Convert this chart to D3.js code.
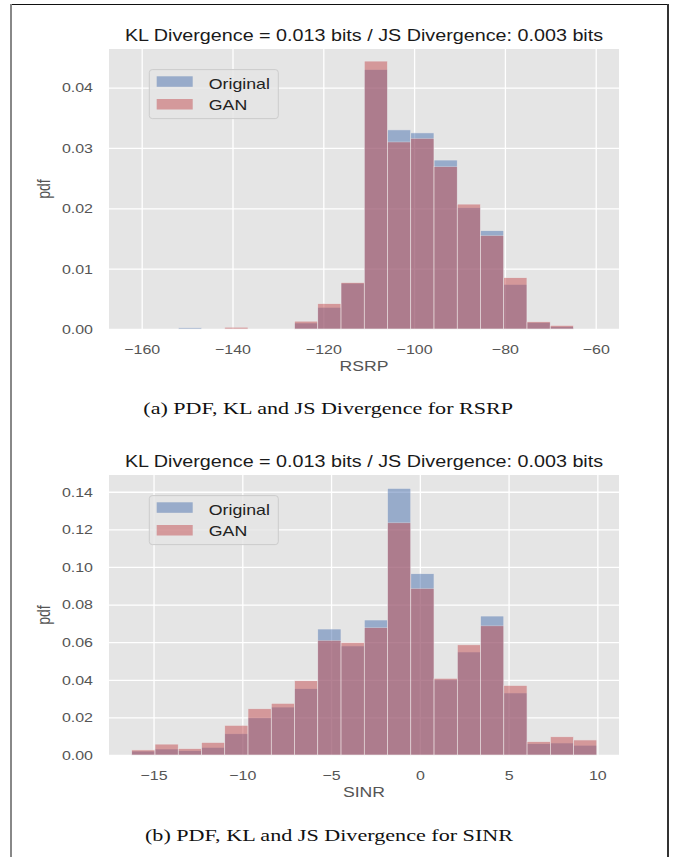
<!DOCTYPE html>
<html>
<head>
<meta charset="utf-8">
<script src="https://cdn.jsdelivr.net/npm/d3@7"></script>
<style>
  body { margin: 0; background: #fff; }
  svg { display: block; }
</style>
</head>
<body>
<svg id="fig" width="675" height="857"></svg>
<script>
// ---- data ----
const titleText = "KL Divergence = 0.013 bits / JS Divergence: 0.003 bits";
const seriesNames = ["Original", "GAN"];

// RSRP histogram (17 shared bins)
const rsrpEdges = [-151.94, -146.82, -141.70, -136.58, -131.46, -126.34, -121.22, -116.10, -110.98,
                   -105.86, -100.74, -95.62, -90.50, -85.38, -80.26, -75.14, -70.02, -64.90];
const rsrpOriginal = [0.0002, 0, 0, 0, 0, 0.0010, 0.0036, 0.0076, 0.0430, 0.0330, 0.0325,
                      0.0280, 0.0201, 0.0163, 0.0074, 0.0011, 0.0004];
const rsrpGan = [0, 0, 0.0003, 0, 0, 0.0013, 0.0042, 0.0077, 0.0444, 0.0310, 0.0316,
                 0.0269, 0.0207, 0.0155, 0.0085, 0.0012, 0.0006];
const rsrpXTicks = [-160, -140, -120, -100, -80, -60];
const rsrpYTicks = [0, 0.01, 0.02, 0.03, 0.04];

// SINR histogram (20 shared bins)
const sinrEdges = [-16.23, -14.92, -13.61, -12.30, -10.99, -9.68, -8.37, -7.06, -5.75, -4.44, -3.13,
                   -1.82, -0.51, 0.80, 2.11, 3.42, 4.73, 6.04, 7.35, 8.66, 9.97];
const sinrOriginal = [0.0021, 0.0032, 0.0023, 0.0041, 0.0113, 0.0198, 0.0255, 0.0353, 0.0670, 0.0580,
                      0.0718, 0.1418, 0.0964, 0.0402, 0.0548, 0.0739, 0.0330, 0.0060, 0.0064, 0.0052];
const sinrGan = [0.0027, 0.0058, 0.0034, 0.0067, 0.0158, 0.0246, 0.0275, 0.0395, 0.0610, 0.0599,
                 0.0677, 0.1235, 0.0886, 0.0408, 0.0586, 0.0687, 0.0370, 0.0071, 0.0097, 0.0080];
const sinrXTicks = [-15, -10, -5, 0, 5, 10];
const sinrYTicks = [0, 0.02, 0.04, 0.06, 0.08, 0.10, 0.12, 0.14];

const captions = ["(a) PDF, KL and JS Divergence for RSRP", "(b) PDF, KL and JS Divergence for SINR"];

// ---- style ----
const SX = 1.25;                       // horizontal text stretch of the figure
const SANS = "'Liberation Sans', Arial, Helvetica, sans-serif";
const SERIF = "'Liberation Serif', 'Times New Roman', Times, serif";
const colors = ["#4C72B0", "#C44E52"];
const bg = "#E5E5E5";

const svg = d3.select("#fig");

// page frame
svg.append("line").attr("x1", 10).attr("x2", 669).attr("y1", 4.5).attr("y2", 4.5)
  .attr("stroke", "#111").attr("stroke-width", 1.2);
svg.append("line").attr("x1", 11).attr("x2", 11).attr("y1", 4).attr("y2", 857)
  .attr("stroke", "#888").attr("stroke-width", 2);
svg.append("line").attr("x1", 668).attr("x2", 668).attr("y1", 4).attr("y2", 857)
  .attr("stroke", "#333").attr("stroke-width", 2);

function stretchedText(parent, x, y, str, opts) {
  return parent.append("text")
    .attr("transform", `translate(${x},${y}) scale(${SX},1)` + (opts.rotate ? ` rotate(${opts.rotate})` : ""))
    .attr("text-anchor", opts.anchor || "middle")
    .attr("font-family", opts.family || SANS)
    .attr("font-size", opts.size)
    .attr("fill", opts.fill || "#222")
    .text(str);
}

function panel(cfg) {
  const g = svg.append("g");
  const x = d3.scaleLinear().domain(cfg.xDomain).range([cfg.left, cfg.right]);
  const y = d3.scaleLinear().domain(cfg.yDomain).range([cfg.bottom, cfg.top]);
  const w = cfg.right - cfg.left, h = cfg.bottom - cfg.top;

  g.append("rect").attr("x", cfg.left).attr("y", cfg.top)
    .attr("width", w).attr("height", h).attr("fill", bg);

  // x axis with gridlines
  const xa = g.append("g").attr("transform", `translate(0,${cfg.bottom})`)
    .call(d3.axisBottom(x).tickValues(cfg.xTicks).tickSize(-h).tickFormat(d3.format("d")));
  xa.select(".domain").remove();
  xa.selectAll(".tick line").attr("stroke", "#fff").attr("stroke-width", 1.3);
  xa.selectAll(".tick text")
    .attr("y", 25).attr("dy", 0)
    .attr("transform", `scale(${SX},1)`)
    .attr("fill", "#555").attr("font-size", 12.8).attr("font-family", SANS);

  // y axis with gridlines
  const ya = g.append("g").attr("transform", `translate(${cfg.left},0)`)
    .call(d3.axisLeft(y).tickValues(cfg.yTicks).tickSize(-w).tickFormat(d3.format(".2f")));
  ya.select(".domain").remove();
  ya.selectAll(".tick line").attr("stroke", "#fff").attr("stroke-width", 1.3);
  ya.selectAll(".tick text")
    .attr("x", -16 / SX).attr("dy", "0.34em")
    .attr("transform", `scale(${SX},1)`)
    .attr("fill", "#555").attr("font-size", 12.8).attr("font-family", SANS);

  // histogram bars: Original first, GAN drawn over it
  [cfg.original, cfg.gan].forEach((vals, k) => {
    const bars = vals.map((v, i) => ({ v, x0: cfg.edges[i], x1: cfg.edges[i + 1] })).filter(d => d.v > 0);
    g.append("g").selectAll("rect").data(bars).join("rect")
      .attr("x", d => x(d.x0))
      .attr("width", d => x(d.x1) - x(d.x0))
      .attr("y", d => y(d.v))
      .attr("height", d => y(0) - y(d.v))
      .attr("fill", colors[k])
      .attr("stroke", "#EEEEEE").attr("stroke-width", 0.6)
      .attr("opacity", 0.5);
  });

  // title and axis labels
  const cx = (cfg.left + cfg.right) / 2;
  stretchedText(g, cx, cfg.top - 8.3, titleText, { size: 15.8, fill: "#1a1a1a" });
  stretchedText(g, cx, cfg.bottom + 42, cfg.xLabel, { size: 14.1, fill: "#555" });
  stretchedText(g, 49.5, (cfg.top + cfg.bottom) / 2, "pdf", { size: 14, fill: "#555", rotate: -90 });

  // legend
  const lx = 149.3, ly = cfg.top + 20.6;
  const lg = g.append("g");
  lg.append("rect").attr("x", lx).attr("y", ly).attr("width", 129).attr("height", 49)
    .attr("rx", 3).attr("fill", bg).attr("fill-opacity", 0.8)
    .attr("stroke", "#CCCCCC").attr("stroke-width", 1);
  seriesNames.forEach((name, k) => {
    lg.append("rect").attr("x", lx + 7.4).attr("y", ly + 6.7 + k * 22.7)
      .attr("width", 36).attr("height", 10.5)
      .attr("fill", colors[k]).attr("opacity", 0.5);
    stretchedText(lg, lx + 59.5, ly + 19.4 + k * 20.8, name, { size: 14.2, anchor: "start", fill: "#222" });
  });

  // caption under the panel
  svg.append("text")
    .attr("x", cfg.capX).attr("y", cfg.capY)
    .attr("font-family", SERIF).attr("font-size", 17).attr("fill", "#111")
    .attr("textLength", cfg.capW).attr("lengthAdjust", "spacingAndGlyphs")
    .text(cfg.caption);
}

panel({
  left: 109, right: 619, top: 49, bottom: 329,
  xDomain: [-167.2, -54.87], yDomain: [0, 0.0464],
  xTicks: rsrpXTicks, yTicks: rsrpYTicks,
  edges: rsrpEdges, original: rsrpOriginal, gan: rsrpGan,
  xLabel: "RSRP",
  caption: captions[0], capX: 143.3, capY: 414.3, capW: 369.7
});

panel({
  left: 109, right: 619, top: 475, bottom: 755,
  xDomain: [-17.51, 11.22], yDomain: [0, 0.1489],
  xTicks: sinrXTicks, yTicks: sinrYTicks,
  edges: sinrEdges, original: sinrOriginal, gan: sinrGan,
  xLabel: "SINR",
  caption: captions[1], capX: 145, capY: 840.7, capW: 368
});
</script>
</body>
</html>
